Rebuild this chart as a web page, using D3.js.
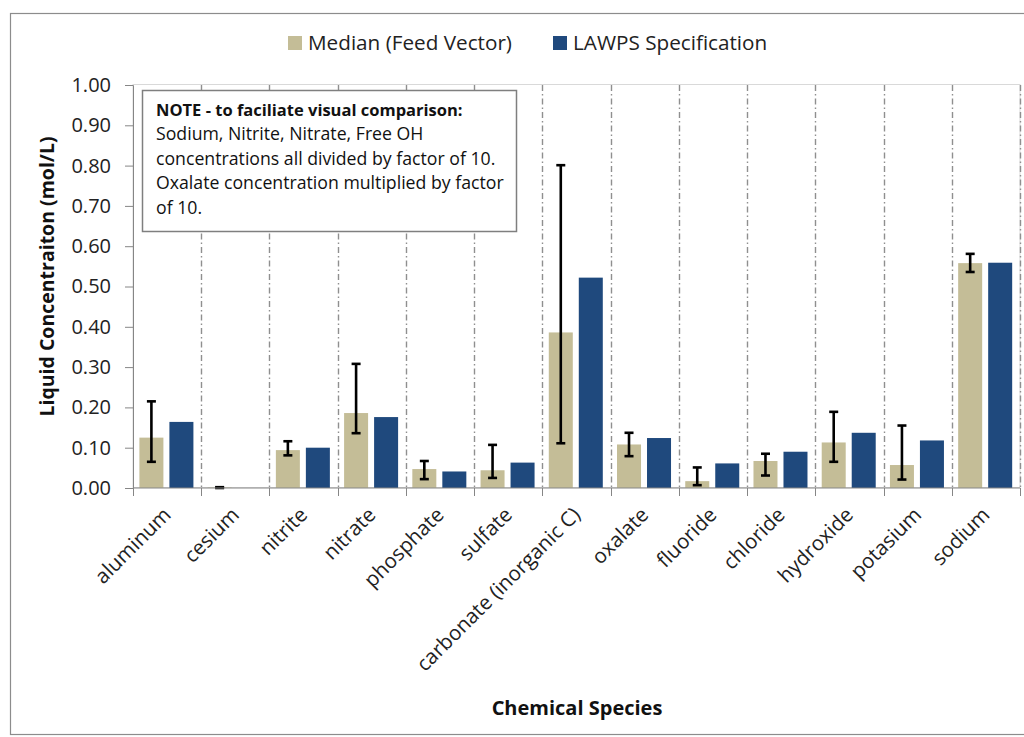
<!DOCTYPE html>
<html>
<head>
<meta charset="utf-8">
<script src="https://cdn.jsdelivr.net/npm/d3@7/dist/d3.min.js"></script>
<style>
  html, body { margin: 0; padding: 0; background: #ffffff; }
  svg { display: block; font-family: "Open Sans", "Noto Sans", sans-serif; }
</style>
</head>
<body>
<svg id="chart" width="1024" height="737"></svg>
<script>
// Chemical species along the x axis
const categories = ["aluminum", "cesium", "nitrite", "nitrate", "phosphate", "sulfate",
  "carbonate (inorganic C)", "oxalate", "fluoride", "chloride", "hydroxide", "potasium", "sodium"];

// Series names (legend)
const seriesNames = ["Median (Feed Vector)", "LAWPS Specification"];

// Median of the feed vector (mol/L, scaled as noted)
const medianValues = [0.125, 0.001, 0.094, 0.186, 0.047, 0.044, 0.386, 0.108, 0.017, 0.067, 0.113, 0.057, 0.558];
// Error bar range for the median: low and high ends
const errLow  = [0.065, 0.000, 0.081, 0.136, 0.022, 0.025, 0.111, 0.079, 0.007, 0.031, 0.065, 0.021, 0.536];
const errHigh = [0.215, 0.002, 0.116, 0.308, 0.067, 0.107, 0.801, 0.137, 0.051, 0.085, 0.189, 0.155, 0.581];

// LAWPS specification values
const lawpsValues = [0.164, 0.000, 0.100, 0.176, 0.041, 0.063, 0.522, 0.124, 0.061, 0.090, 0.137, 0.118, 0.559];

// Y axis tick values
const yTicks = [0, 0.1, 0.2, 0.3, 0.4, 0.5, 0.6, 0.7, 0.8, 0.9, 1.0];

// Note text
const noteLines = [
  "NOTE - to faciliate visual comparison:",
  "Sodium, Nitrite, Nitrate, Free OH",
  "concentrations all divided by factor of 10.",
  "Oxalate concentration multiplied by factor",
  "of 10."
];

const colors = ["#c4bd97", "#1f497d"];

const svg = d3.select("#chart");
const plot = { left: 133, right: 1020, top: 85, bottom: 488 };

// outer chart frame
svg.append("rect")
  .attr("x", 10.5).attr("y", 13.5)
  .attr("width", 1030).attr("height", 721)
  .attr("fill", "#ffffff").attr("stroke", "#8c8c8c").attr("stroke-width", 1.2);

const x = d3.scaleBand().domain(categories).range([plot.left, plot.right]).padding(0);
const x1 = d3.scaleBand().domain(seriesNames).range([0, x.bandwidth()])
  .paddingInner(0.2).paddingOuter(0.237).align(0.45);
const y = d3.scaleLinear().domain([0, 1]).range([plot.bottom, plot.top]);

// plot area border
svg.append("rect")
  .attr("x", plot.left).attr("y", plot.top - 0.5)
  .attr("width", plot.right - plot.left).attr("height", plot.bottom - plot.top)
  .attr("fill", "none").attr("stroke", "#d9d9d9").attr("stroke-width", 1);

// dash-dot vertical gridlines at category boundaries
const bounds = categories.slice(1).map(c => x(c)).concat([plot.right]);
svg.append("g").selectAll("line").data(bounds).join("line")
  .attr("x1", d => Math.round(d) + 0.5).attr("x2", d => Math.round(d) + 0.5)
  .attr("y1", plot.top).attr("y2", plot.bottom)
  .attr("stroke", "#8f8f8f").attr("stroke-width", 1.4)
  .attr("stroke-dasharray", "6,3,1.5,3");

// bars
const rows = categories.map((c, i) => ({ c, i, vals: [medianValues[i], lawpsValues[i]] }));
const groups = svg.append("g").selectAll("g").data(rows).join("g")
  .attr("transform", d => `translate(${x(d.c)},0)`);
groups.selectAll("rect").data(d => d.vals.map((v, k) => ({ v, k }))).join("rect")
  .attr("x", d => x1(seriesNames[d.k]))
  .attr("width", x1.bandwidth())
  .attr("y", d => y(d.v))
  .attr("height", d => y(0) - y(d.v))
  .attr("fill", d => colors[d.k]);

// error bars on the median series
const eb = svg.append("g").attr("stroke", "#000").attr("stroke-width", 2.6);
categories.forEach((c, i) => {
  const cx = x(c) + x1(seriesNames[0]) + x1.bandwidth() / 2;
  eb.append("line").attr("x1", cx).attr("x2", cx).attr("y1", y(errLow[i])).attr("y2", y(errHigh[i]));
  [errLow[i], errHigh[i]].forEach(v => {
    eb.append("line").attr("x1", cx - 4.5).attr("x2", cx + 4.5).attr("y1", y(v)).attr("y2", y(v));
  });
});

// y axis
const yAxis = d3.axisLeft(y).tickValues(yTicks).tickFormat(d3.format(".2f")).tickSize(8).tickPadding(14);
const gy = svg.append("g").attr("transform", `translate(${plot.left},0)`).call(yAxis);
gy.select(".domain").attr("stroke", "#868686");
gy.selectAll(".tick line").attr("stroke", "#868686");
gy.selectAll(".tick text").attr("font-size", 20).attr("fill", "#222").attr("font-family", "Open Sans");

// x axis: ticks at category boundaries
const gx = svg.append("g").attr("transform", `translate(0,${plot.bottom})`);
gx.append("line").attr("x1", plot.left).attr("x2", plot.right).attr("stroke", "#868686");
gx.selectAll("line.t").data([plot.left].concat(bounds)).join("line").attr("class", "t")
  .attr("x1", d => Math.round(d) + 0.5).attr("x2", d => Math.round(d) + 0.5)
  .attr("y1", 0).attr("y2", 8).attr("stroke", "#868686");
gx.selectAll("text").data(categories).join("text")
  .attr("transform", d => `translate(${x(d) + x.bandwidth() / 2 + 5},${28}) rotate(-45)`)
  .attr("text-anchor", "end")
  .attr("font-size", 20.5)
  .attr("fill", "#222")
  .text(d => d);

// axis titles
svg.append("text")
  .attr("transform", `translate(54,${(plot.top + plot.bottom) / 2 - 10}) rotate(-90)`)
  .attr("text-anchor", "middle").attr("font-weight", "bold").attr("font-size", 19.5).attr("fill", "#111")
  .text("Liquid Concentraiton (mol/L)");
svg.append("text")
  .attr("x", 577).attr("y", 715)
  .attr("text-anchor", "middle").attr("font-weight", "bold").attr("font-size", 20).attr("fill", "#111")
  .text("Chemical Species");

// legend
const legendItems = [{ name: seriesNames[0], x: 288 }, { name: seriesNames[1], x: 553 }];
const lg = svg.append("g");
legendItems.forEach((d, k) => {
  lg.append("rect").attr("x", d.x).attr("y", 36).attr("width", 14).attr("height", 14).attr("fill", colors[k]);
  lg.append("text").attr("x", d.x + 20).attr("y", 50).attr("font-size", 20.7).attr("fill", "#222").text(d.name);
});

// note box
const nb = svg.append("g");
nb.append("rect").attr("x", 142.5).attr("y", 90.5).attr("width", 374).attr("height", 141)
  .attr("fill", "#ffffff").attr("stroke", "#7f7f7f").attr("stroke-width", 1.5);
nb.selectAll("text").data(noteLines).join("text")
  .attr("x", 156).attr("y", (d, i) => 116 + i * 24.4)
  .attr("font-size", (d, i) => i === 0 ? 16.5 : 17.7)
  .attr("font-weight", (d, i) => i === 0 ? "bold" : "normal")
  .attr("fill", "#111")
  .text(d => d);
</script>
</body>
</html>
